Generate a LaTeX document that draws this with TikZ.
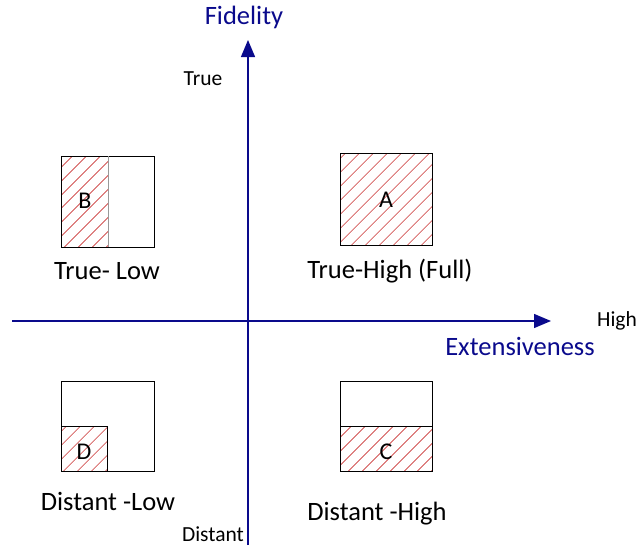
\documentclass[tikz,border=0pt]{standalone}
\usepackage{fontspec}
\setmainfont{Carlito}
\usetikzlibrary{arrows.meta,patterns.meta}
\definecolor{axisblue}{RGB}{10,10,140}
\definecolor{hatchred}{RGB}{222,130,130}
\tikzset{
  axis/.style={draw=axisblue, line width=1.3pt, -{Triangle[length=17pt,width=14pt]}},
  axlabel/.style={text=axisblue, font=\fontsize{26.5}{30}\selectfont, inner sep=0pt},
  small/.style={font=\fontsize{21.5}{25}\selectfont, inner sep=0pt},
  qlabel/.style={font=\fontsize{26.5}{30}\selectfont, inner sep=0pt},
  letter/.style={font=\fontsize{24}{28}\selectfont, inner sep=0pt},
  box/.style={draw=black, line width=0.9pt},
  hatch/.style={pattern={Lines[angle=45,distance=10.5pt,line width=1.3pt]}, pattern color=hatchred},
}
\begin{document}
\begin{tikzpicture}[x=1pt,y=-1pt]
\useasboundingbox (0,0) rectangle (638,546);
% axes
\coordinate (vb) at (248,545);
\coordinate (vt) at (248,40);
\coordinate (hl) at (12,321);
\coordinate (hr) at (551,321);
\draw[axis] (vb) -- (vt);
\draw[axis] (hl) -- (hr);
\node[axlabel] (fid) at (244,17) {Fidelity};
\node[axlabel] (ext) at (520,346) {Extensiveness};
\node[small] (true) at (203,79) {True};
\node[small] (high) at (617,321) {High};
\node[small] (dist) at (213,534) {Distant};
% B
\fill[hatch] (61,156) rectangle (108,247);
\draw[box] (61,156) rectangle (154,247);
\draw[box, draw=gray!80] (108,156) -- (108,247);
\node[letter] (B) at (85,201) {B};
\node[qlabel] (tl) at (107,271) {True- Low};
% A
\fill[hatch] (340,153) rectangle (432,245);
\draw[box] (340,153) rectangle (432,245);
\node[letter] (A) at (386,200) {A};
\node[qlabel] (th) at (390,271) {True-High (Full)};
% D
\fill[hatch] (61,426) rectangle (107,471);
\draw[box] (61,381) rectangle (154,471);
\draw[box] (61,426) -- (107,426) -- (107,471);
\node[letter] (D) at (84,452) {D};
\node[qlabel] (dl) at (108,501) {Distant -Low};
% C
\fill[hatch] (340,426) rectangle (432,471);
\draw[box] (340,381) rectangle (432,471);
\draw[box] (340,426) -- (432,426);
\node[letter] (C) at (386,452) {C};
\node[qlabel] (dh) at (377,514) {Distant -High};
\end{tikzpicture}
\end{document}
